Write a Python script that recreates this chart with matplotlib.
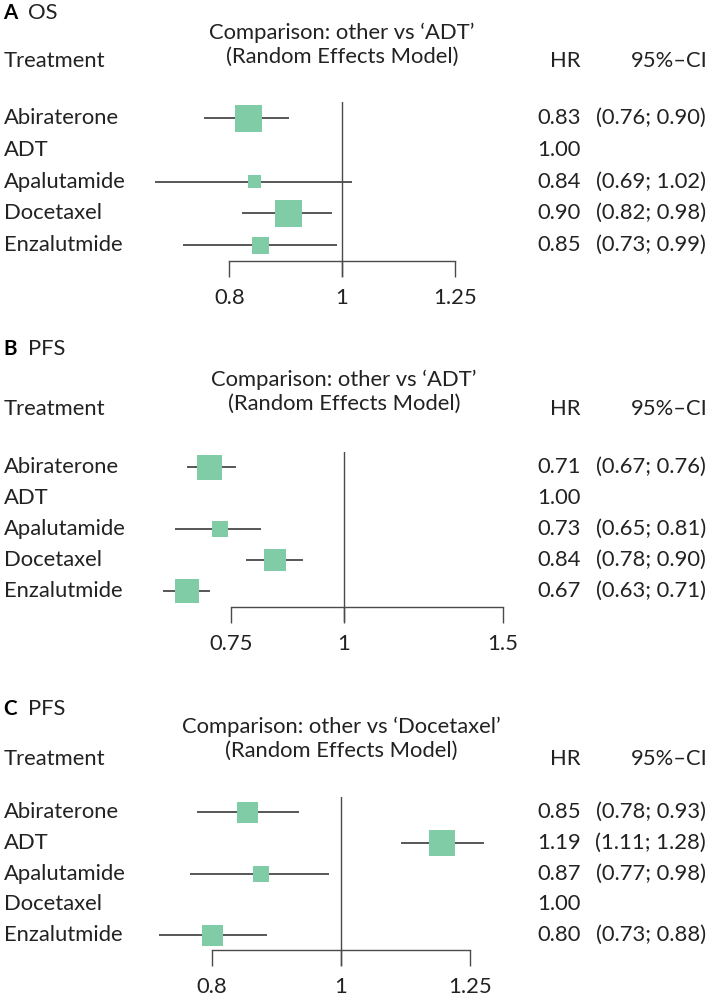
import numpy as np
import matplotlib
matplotlib.use("Agg")
import matplotlib.pyplot as plt
from matplotlib.ticker import NullLocator, FixedLocator
from matplotlib.transforms import blended_transform_factory

plt.rcParams['font.family'] = ['Lato', 'DejaVu Sans']

### dane
treatments = ["Abiraterone", "ADT", "Apalutamide", "Docetaxel", "Enzalutmide"]

os_hr = [0.83, 1.00, 0.84, 0.90, 0.85]
os_lo = [0.76, np.nan, 0.69, 0.82, 0.73]
os_hi = [0.90, np.nan, 1.02, 0.98, 0.99]
os_weight = [27, 0, 13, 27, 17]
os_ticks = [0.8, 1, 1.25]
os_ticklabels = ["0.8", "1", "1.25"]

pfs_hr = [0.71, 1.00, 0.73, 0.84, 0.67]
pfs_lo = [0.67, np.nan, 0.65, 0.78, 0.63]
pfs_hi = [0.76, np.nan, 0.81, 0.90, 0.71]
pfs_weight = [25, 0, 16, 22, 24]
pfs_ticks = [0.75, 1, 1.5]
pfs_ticklabels = ["0.75", "1", "1.5"]

doc_hr = [0.85, 1.19, 0.87, 1.00, 0.80]
doc_lo = [0.78, 1.11, 0.77, np.nan, 0.73]
doc_hi = [0.93, 1.28, 0.98, np.nan, 0.88]
doc_weight = [21, 26, 16, 0, 21]
doc_ticks = [0.8, 1, 1.25]
doc_ticklabels = ["0.8", "1", "1.25"]

W, H = 709, 999
GREEN = "#7fcca7"
GREY = "#4a4a4a"
TXT = "#222222"
FS = 15.8

fig = plt.figure(figsize=(W / 100, H / 100), dpi=100)


def fx(x):
    return x / W


def fy(y):
    return 1 - y / H


def panel(letter, outcome, ref, hr, lo, hi, weight, ticks, ticklabels,
          xlim, title_y, comp_y, head_y, row0, step=31):
    # os y: wiersze 1..5, os pozioma na 5.5, koniec tickow na 6.0
    top = row0 - 0.5 * step
    height = 5.5 * step
    ax = fig.add_axes([fx(100), fy(top + height), fx(540) - fx(100), height / H])
    ax.set_xscale("log")
    ax.set_xlim(*xlim)
    ax.set_ylim(6.0, 0.5)
    ax.patch.set_alpha(0)

    rows = np.arange(1, len(treatments) + 1)
    for r, h, l, u, w in zip(rows, hr, lo, hi, weight):
        if np.isnan(l):
            continue
        ax.plot([l, u], [r, r], color=GREY, lw=1.3, solid_capstyle="butt", zorder=2)
        ax.scatter([h], [r], marker="s", s=(w * 0.72) ** 2, color=GREEN,
                   edgecolor="none", zorder=3)

    ax.axvline(1, color=GREY, lw=1.0, zorder=1)

    for s in ["top", "left", "right"]:
        ax.spines[s].set_visible(False)
    ax.spines["bottom"].set_position(("data", 5.5))
    ax.spines["bottom"].set_bounds(ticks[0], ticks[-1])
    ax.spines["bottom"].set_color(GREY)
    ax.spines["bottom"].set_linewidth(1.0)
    ax.xaxis.set_major_locator(FixedLocator(ticks))
    ax.xaxis.set_minor_locator(NullLocator())
    ax.set_xticklabels(ticklabels)
    ax.tick_params(axis="x", length=11.5, width=1.0, color=GREY, pad=8,
                   labelsize=FS, labelcolor=TXT)
    ax.set_yticks([])

    # teksty w wierszach
    tr = blended_transform_factory(fig.transFigure, ax.transData)
    for r, name, h, l, u in zip(rows, treatments, hr, lo, hi):
        ax.text(fx(4), r, name, transform=tr, ha="left", va="center",
                fontsize=FS, color=TXT)
        ax.text(fx(581), r, f"{h:.2f}", transform=tr, ha="right", va="center",
                fontsize=FS, color=TXT)
        if not np.isnan(l):
            ax.text(fx(706), r, f"({l:.2f}; {u:.2f})", transform=tr, ha="right",
                    va="center", fontsize=FS, color=TXT)

    # naglowki
    fig.text(fx(3), fy(title_y), letter, ha="left", va="center",
             fontsize=FS - 1, fontweight="bold", color="black")
    fig.text(fx(28), fy(title_y), outcome, ha="left", va="center",
             fontsize=FS, color=TXT)
    trc = blended_transform_factory(ax.transData, fig.transFigure)
    ax.text(1, fy(comp_y), f"Comparison: other vs \u2018{ref}\u2019", transform=trc,
            ha="center", va="center", fontsize=FS, color=TXT)
    ax.text(1, fy(comp_y + 24), "(Random Effects Model)", transform=trc,
            ha="center", va="center", fontsize=FS, color=TXT)
    fig.text(fx(4), fy(head_y), "Treatment", ha="left", va="center",
             fontsize=FS, color=TXT)
    fig.text(fx(581), fy(head_y), "HR", ha="right", va="center",
             fontsize=FS, color=TXT)
    fig.text(fx(708), fy(head_y), "95%\u2013CI", ha="right", va="center",
             fontsize=FS, color=TXT)
    return ax


panel("A", "OS", "ADT", os_hr, os_lo, os_hi, os_weight, os_ticks, os_ticklabels,
      (0.619, 1.480), 13, 33, 61, 118, step=31.75)
panel("B", "PFS", "ADT", pfs_hr, pfs_lo, pfs_hi, pfs_weight, pfs_ticks, pfs_ticklabels,
      (0.537, 1.649), 349, 380, 409, 467, step=31)
panel("C", "PFS", "Docetaxel", doc_hr, doc_lo, doc_hi, doc_weight, doc_ticks, doc_ticklabels,
      (0.659, 1.411), 709, 727, 759, 812, step=30.75)

fig.savefig("out.png", dpi=100)
